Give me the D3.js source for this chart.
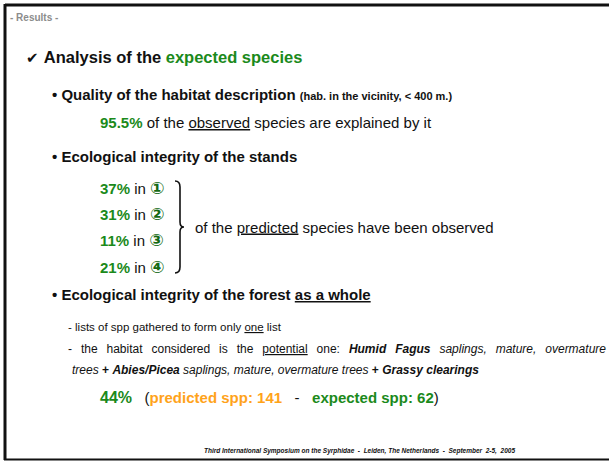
<!DOCTYPE html>
<html><head><meta charset="utf-8">
<script src="https://cdn.jsdelivr.net/npm/d3@7"></script>
<style>
html,body{margin:0;padding:0;background:#fff;}
svg{display:block;font-family:"Liberation Sans",Arial,sans-serif;}
</style></head>
<body>
<svg id="c" width="609" height="461"></svg>
<script>
// ---- data ----
const sectionTitle = "- Results -";
const heading = ["Analysis of the ", "expected species"];
const qualityPercent = 95.5;
const standLabels = ["\u2460", "\u2461", "\u2462", "\u2463"];
const standPercents = [37, 31, 11, 21];
const forestPercent = 44;
const predictedSpp = 141;
const expectedSpp = 62;
const footer = "Third International Symposium on the Syrphidae  -  Leiden, The Netherlands  -  September  2-5,  2005";

const GREEN = "#1b8a1b", ORANGE = "#ffa31a", DARKGREEN = "#146a14";
const W = 609, H = 461;
const svg = d3.select("#c");

// frame
svg.append("line").attr("x1",5).attr("y1",5).attr("x2",W).attr("y2",5).attr("stroke","#111").attr("stroke-width",3);
svg.append("line").attr("x1",5).attr("y1",4).attr("x2",5).attr("y2",460).attr("stroke","#111").attr("stroke-width",3);
svg.append("line").attr("x1",4).attr("y1",459.5).attr("x2",W).attr("y2",459.5).attr("stroke","#111").attr("stroke-width",2);

function line(x, y, parts, base) {
  const t = svg.append("text").attr("x", x).attr("y", y).style("white-space","pre");
  Object.entries(base || {}).forEach(([k,v]) => t.style(k, v));
  parts.forEach(p => {
    const s = t.append("tspan").text(p.t);
    if (p.b) s.style("font-weight", "bold");
    if (p.i) s.style("font-style", "italic");
    if (p.u) s.style("text-decoration", "underline");
    if (p.c) s.style("fill", p.c);
    if (p.s) s.style("font-size", p.s + "px");
    if (p.f) s.style("font-family", p.f);
  });
  return t;
}

line(10, 21, [{t: sectionTitle, b:1}], {"font-size":"10px", fill:"#8c8c8c"});
line(26, 63, [{t:"\u2714 ", f:"DejaVu Sans", s:15}, {t: heading[0]}, {t: heading[1], c: GREEN}], {"font-size":"16.5px","font-weight":"bold", fill:"#111"});

line(52, 100, [{t:"\u2022 Quality of the habitat description "}, {t:"(hab. in the vicinity, < 400 m.)", s:11}], {"font-size":"15px","font-weight":"bold", fill:"#111"});
line(100, 128, [{t: qualityPercent + "%", b:1, c:GREEN}, {t:" of the "}, {t:"observed", u:1}, {t:" species are explained by it"}], {"font-size":"15px", fill:"#111"});

line(52, 162, [{t:"\u2022 Ecological integrity of the stands"}], {"font-size":"15px","font-weight":"bold", fill:"#111"});

// stands rows via a point scale
const yRow = d3.scalePoint().domain(standLabels).range([188, 267]);
const rows = svg.append("g");
standLabels.forEach((lab, i) => {
  const t = rows.append("text").attr("x", 100).attr("y", yRow(lab) + 5.5).style("font-size","15px").style("fill","#111").style("white-space","pre");
  t.append("tspan").text(standPercents[i] + "%").style("font-weight","bold").style("fill", GREEN);
  t.append("tspan").text(" in ");
  t.append("tspan").text(lab).style("font-weight","bold").style("fill", DARKGREEN).style("font-family","DejaVu Sans").style("font-size","17px");
});
// brace
const y0 = yRow.range()[0] - 7, y1 = yRow.range()[1] + 6, ym = (y0 + y1) / 2, bx = 175;
const bp = d3.path();
bp.moveTo(bx, y0);
bp.quadraticCurveTo(bx + 5, y0, bx + 5, y0 + 6);
bp.lineTo(bx + 5, ym - 5);
bp.quadraticCurveTo(bx + 5, ym, bx + 9, ym);
bp.quadraticCurveTo(bx + 5, ym, bx + 5, ym + 5);
bp.lineTo(bx + 5, y1 - 6);
bp.quadraticCurveTo(bx + 5, y1, bx, y1);
svg.append("path").attr("d", bp.toString()).attr("fill","none").attr("stroke","#111").attr("stroke-width",1.6);
line(195, ym + 5.5, [{t:"of the "}, {t:"predicted", u:1}, {t:" species have been observed"}], {"font-size":"15px", fill:"#111"});

line(52, 300, [{t:"\u2022 Ecological integrity of the forest "}, {t:"as a whole", u:1}], {"font-size":"15px","font-weight":"bold", fill:"#111"});
line(68, 331, [{t:"- lists of spp gathered to form only "}, {t:"one", u:1}, {t:" list"}], {"font-size":"11.5px", fill:"#111"});
const hab = line(68, 353, [{t:"- the habitat considered is the "}, {t:"potential", u:1}, {t:" one: "}, {t:"Humid Fagus", b:1, i:1}, {t:" saplings, mature, overmature", i:1}], {"font-size":"12px", fill:"#111"});
// justified first line of the paragraph (stretched word spacing)
{
  const natural = hab.node().getComputedTextLength();
  const nSpaces = (hab.text().match(/ /g) || []).length;
  const target = 606 - 68;
  hab.style("word-spacing", Math.max(0, (target - natural) / nSpaces) + "px");
}
line(72, 374, [{t:"trees", i:1}, {t:" + ", b:1}, {t:"Abies/Picea", b:1, i:1}, {t:" saplings, mature, overmature trees", i:1}, {t:" + ", b:1}, {t:"Grassy clearings", b:1, i:1}], {"font-size":"12px", fill:"#111"});

line(100, 403, [{t: forestPercent + "%", b:1, c:GREEN, s:16}, {t:"   ("}, {t:"predicted spp: " + predictedSpp, b:1, c:ORANGE}, {t:"   -   "}, {t:"expected spp: " + expectedSpp, b:1, c:GREEN}, {t:")"}], {"font-size":"15px", fill:"#111"});

svg.append("text").attr("x", 515).attr("y", 453).attr("text-anchor","end")
  .style("font-size","6.5px").style("font-weight","bold").style("font-style","italic").style("fill","#111")
  .style("white-space","pre").text(footer);
</script>
</body></html>
